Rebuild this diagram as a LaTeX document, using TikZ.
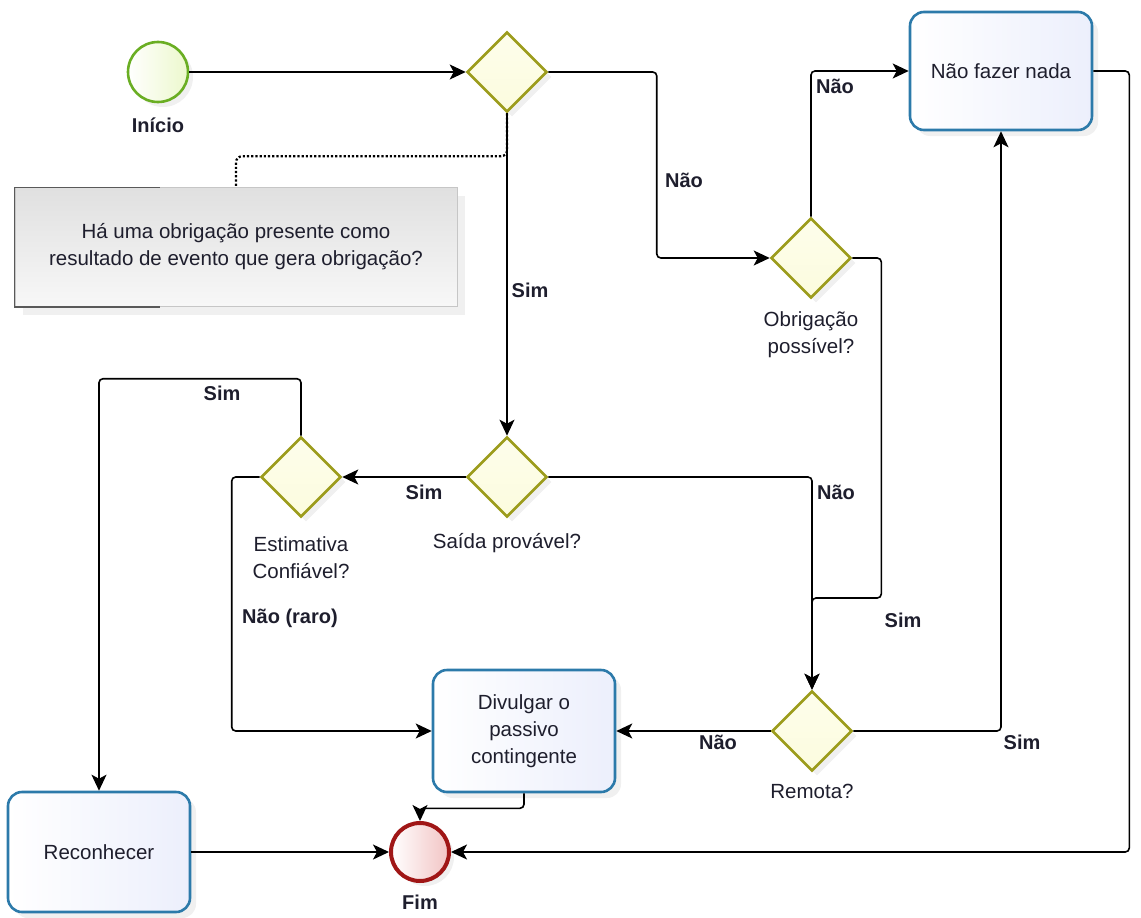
\documentclass[tikz,border=0pt]{standalone}
\usepackage{fontspec}
\setmainfont{Liberation Sans}
\usepackage{tikz}
\usetikzlibrary{positioning,shapes.geometric,arrows.meta,calc,shadows}
\definecolor{gateBorder}{RGB}{156,156,28}
\definecolor{gateFill}{RGB}{252,252,222}
\definecolor{taskBorder}{RGB}{44,122,170}
\definecolor{taskFill}{RGB}{236,239,252}
\definecolor{startBorder}{RGB}{106,174,35}
\definecolor{startFill}{RGB}{236,248,204}
\definecolor{endBorder}{RGB}{160,22,22}
\definecolor{endFill}{RGB}{242,196,196}
\definecolor{noteFill}{RGB}{224,224,224}
\definecolor{textDark}{RGB}{30,30,45}

\begin{document}
\begin{tikzpicture}[
    x=1pt, y=-1pt,
    font=\fontsize{20.5}{27}\selectfont,
    text=textDark,
    gateway/.style={
        diamond,
        aspect=1,
        draw=gateBorder,
        line width=2.6pt,
        top color=gateFill!60,
        bottom color=gateFill,
        inner sep=0pt,
        minimum width=80pt,
        minimum height=80pt,
        drop shadow={shadow xshift=5pt, shadow yshift=-5pt, opacity=0.12}
    },
    task/.style={
        draw=taskBorder,
        line width=2.6pt,
        rounded corners=14pt,
        left color=white,
        right color=taskFill,
        align=center,
        minimum width=182pt,
        minimum height=120pt,
        drop shadow={shadow xshift=6pt, shadow yshift=-6pt, opacity=0.12}
    },
    event/.style={
        circle,
        inner sep=0pt,
        minimum size=60pt
    },
    gatelabel/.style={
        align=center,
        inner sep=0pt
    },
    flowlabel/.style={
        font=\fontsize{20}{24}\selectfont\bfseries,
        inner sep=0pt
    },
    arrow/.style={
        -{Stealth[length=16pt, width=15pt, inset=4pt]},
        line width=1.6pt,
        color=black,
        rounded corners=4pt
    }
]
    \useasboundingbox (0,0) rectangle (1141,918);

    % ---------------------------------------------------------
    % EVENTS
    % ---------------------------------------------------------
    \node[event, draw=startBorder, line width=2.6pt, left color=white, right color=startFill,
          drop shadow={shadow xshift=5pt, shadow yshift=-5pt, opacity=0.12}] (inicio) at (158,72) {};
    \node[flowlabel, below=14pt of inicio] (inicioLbl) {Início};

    \node[event, draw=endBorder, line width=4pt, left color=white, right color=endFill,
          minimum size=58pt,
          drop shadow={shadow xshift=5pt, shadow yshift=-5pt, opacity=0.12}] (fim) at (420,852) {};
    \node[flowlabel, below=12pt of fim] (fimLbl) {Fim};

    % ---------------------------------------------------------
    % GATEWAYS
    % ---------------------------------------------------------
    \node[gateway] (obrig) at (507,72) {};

    \node[gateway] (possivel) at (811,258) {};
    \node[gatelabel, below=12pt of possivel] (possivelLbl) {Obrigação\\possível?};

    \node[gateway] (provavel) at (507,477) {};
    \node[gatelabel, below=15pt of provavel] (provavelLbl) {Saída provável?};

    \node[gateway] (estimativa) at (301,477) {};
    \node[gatelabel, below=18pt of estimativa] (estimativaLbl) {Estimativa\\Confiável?};

    \node[gateway] (remota) at (812,731) {};
    \node[gatelabel, below=12pt of remota] (remotaLbl) {Remota?};

    % ---------------------------------------------------------
    % TASKS
    % ---------------------------------------------------------
    \node[task, minimum height=118pt] (nada) at (1001,71) {Não fazer nada};
    \node[task, minimum height=122pt] (divulgar) at (524,731) {Divulgar o\\passivo\\contingente};
    \node[task] (reconhecer) at (99,852) {Reconhecer};

    % ---------------------------------------------------------
    % ANNOTATION
    % ---------------------------------------------------------
    \node[draw=gray!45, line width=0.8pt, top color=noteFill, bottom color=gray!6,
          minimum width=442pt, minimum height=119pt, align=center,
          drop shadow={shadow xshift=8pt, shadow yshift=-8pt, opacity=0.12}] (nota) at (236,247)
        {Há uma obrigação presente como\\resultado de evento que gera obrigação?};
    \draw[gray!70!black, line width=1.2pt]
        ([xshift=145pt]nota.north west) -- (nota.north west) -- (nota.south west) -- ([xshift=145pt]nota.south west);
    \draw[dotted, line width=2.2pt, rounded corners=6pt] (obrig.south) -- ++(0,43) -| (nota.north);

    % ---------------------------------------------------------
    % ARROWS
    % ---------------------------------------------------------
    \draw[arrow] (inicio) -- (obrig.west);
    \draw[arrow] (obrig.east) -| ($(obrig.east)!0.49!(possivel.west)$) |- (possivel.west);
    \draw[arrow] (obrig.south) -- (provavel.north);
    \draw[arrow] (possivel.north) |- (nada.west);
    \draw[arrow] (possivel.east) -| ++(29,340) -| (remota.north);
    \draw[arrow] (provavel.east) -| (remota.north);
    \draw[arrow] (provavel.west) -- (estimativa.east);
    \draw[arrow] (estimativa.north) -- ++(0,-57) -| (reconhecer.north);
    \draw[arrow] (estimativa.west) -- ++(-28,0) |- (divulgar.west);
    \draw[arrow] (remota.west) -- (divulgar.east);
    \draw[arrow] (remota.east) -| (nada.south);
    \draw[arrow] (divulgar.south) -- ++(0,15) -| (fim.north);
    \draw[arrow] (reconhecer.east) -- (fim.west);
    \draw[arrow] (nada.east) -- ++(36,0) |- (fim.east);

    % flow labels
    \node[flowlabel] (naoA) at (684,180) {Não};
    \node[flowlabel] (naoB) at (835,86) {Não};
    \node[flowlabel] (simA) at (530,290) {Sim};
    \node[flowlabel] (simB) at (903,620) {Sim};
    \node[flowlabel] (naoC) at (836,492) {Não};
    \node[flowlabel] (simC) at (424,492) {Sim};
    \node[flowlabel] (simD) at (222,393) {Sim};
    \node[flowlabel] (naoRaro) at (290,618) {Não (raro)};
    \node[flowlabel] (naoD) at (718,742) {Não};
    \node[flowlabel] (simE) at (1022,742) {Sim};

\end{tikzpicture}
\end{document}
